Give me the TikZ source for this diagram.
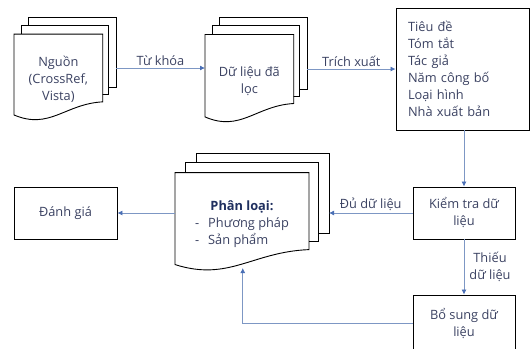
\documentclass[tikz,border=0pt]{standalone}
\usepackage{fontspec}
\setmainfont{Open Sans}
\usetikzlibrary{positioning, arrows.meta, calc}
\definecolor{flowblue}{HTML}{7D97C4}
\definecolor{tipblue}{HTML}{4A6FB5}
\definecolor{txtgray}{HTML}{3B4262}
\definecolor{headnavy}{HTML}{1F2F5F}

\tikzset{
  box/.style={draw=black, line width=0.9pt, fill=white, text=txtgray,
              font=\fontsize{12.8}{17}\selectfont, align=center, inner sep=0pt},
  page/.style={draw=black, line width=0.9pt, fill=white},
  flow/.style={-{Latex[length=5pt,width=5pt,color=tipblue]}, draw=flowblue, line width=0.8pt},
  lbl/.style={text=txtgray, font=\fontsize{12.8}{17}\selectfont, align=center, inner sep=2pt},
}

% stack of three pages: name, x0, y0, width, height, text
\newcommand{\multidoc}[6]{%
  \draw[page] ({#2+0.14*#4},{#3}) rectangle ({#2+#4},{#3+0.70*#5});
  \draw[page] ({#2+0.07*#4},{#3+0.08*#5}) rectangle ({#2+0.93*#4},{#3+0.77*#5});
  \draw[page] ({#2},{#3+0.17*#5}) -- ({#2+0.87*#4},{#3+0.17*#5})
    -- ({#2+0.87*#4},{#3+0.84*#5})
    .. controls ({#2+0.5*#4},{#3+0.86*#5}) and ({#2+0.35*#4},{#3+1.12*#5}) .. ({#2},{#3+0.97*#5})
    -- cycle;
  \node[lbl] (#1) at ({#2+0.435*#4},{#3+0.62*#5}) {#6};
  \coordinate (#1-west) at ({#2},{#3+0.505*#5});
  \coordinate (#1-east) at ({#2+#4},{#3+0.505*#5});
  \coordinate (#1-foot) at ({#2+0.44*#4},{#3+1.0*#5});
}

\begin{document}
\begin{tikzpicture}[x=1pt, y=-1pt]
  \useasboundingbox (0,0) rectangle (532,348);

  \multidoc{nguon}{14}{17}{102}{101}{Nguồn\\(CrossRef,\\Vista)}
  \multidoc{loc}{205}{17}{102}{103}{Dữ liệu đã\\lọc}
  \multidoc{phanloai}{175}{153}{154}{115}{%
    \begin{tabular}{@{}l@{\hspace{9pt}}l@{}}
      \multicolumn{2}{c}{\textcolor{headnavy}{\bfseries Phân loại:}}\\
      - & Phương pháp\\
      - & Sản phẩm
    \end{tabular}}

  \node[box, minimum width=133, minimum height=122, text width=109,
        inner xsep=12, align=left] (truong) at (462.5,69)
        {Tiêu đề\\Tóm tắt\\Tác giả\\Năm công bố\\Loại hình\\Nhà xuất bản};
  \node[box, minimum width=102, minimum height=52] (kiemtra) at (464,213) {Kiểm tra dữ\\liệu};
  \node[box, minimum width=102, minimum height=57] (bosung) at (464,323.5) {Bổ sung dữ\\liệu};
  \node[box, minimum width=103, minimum height=52] (danhgia) at (65.5,213) {Đánh giá};

  \draw[flow] (nguon-east) -- node[lbl, above] {Từ khóa} (nguon-east -| loc-west);
  \draw[flow] (loc-east) -- node[lbl, above] {Trích xuất} (loc-east -| truong.west);
  \draw[flow] (kiemtra.north |- truong.south) -- (kiemtra.north);
  \draw[flow] (kiemtra.west) -- node[lbl, above] {Đủ dữ liệu} (kiemtra.west -| phanloai-east);
  \draw[flow] (kiemtra.south) -- node[lbl, right=3pt] {Thiếu\\dữ liệu} (bosung.north);
  \draw[flow] (bosung.west) -- (bosung.west -| phanloai-foot) -- (phanloai-foot);
  \draw[flow] (danhgia.east -| phanloai-west) -- (danhgia.east);
\end{tikzpicture}
\end{document}
